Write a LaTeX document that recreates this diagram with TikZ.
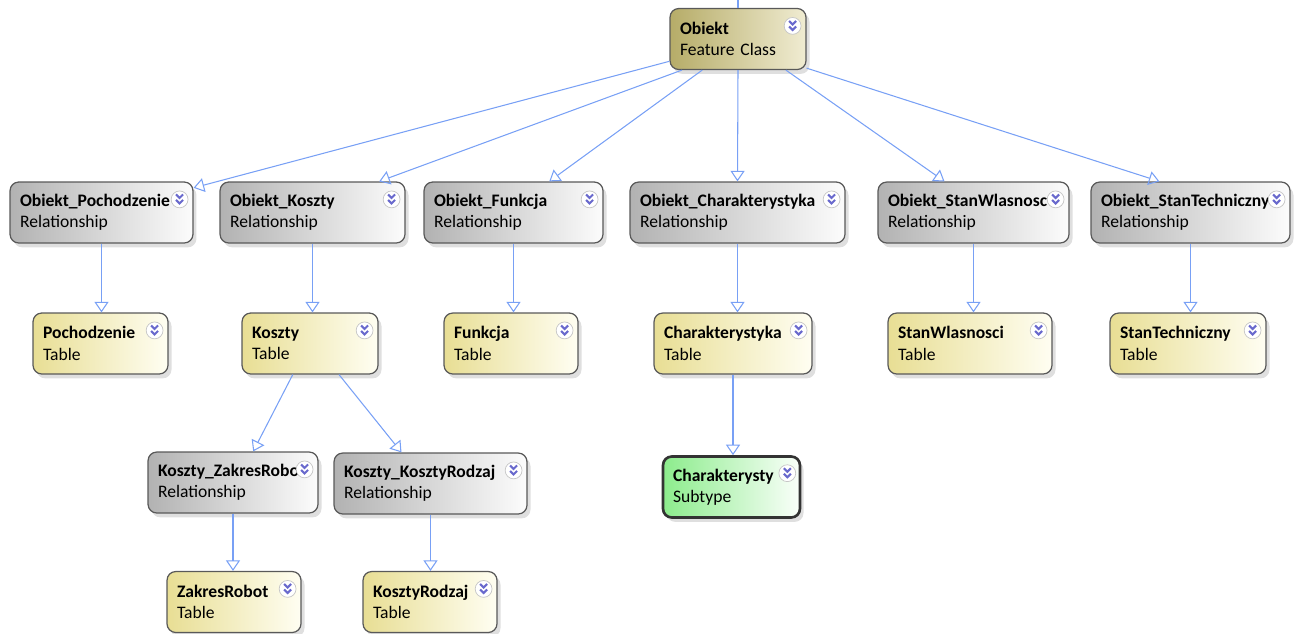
\documentclass[tikz,border=0pt]{standalone}
\usepackage{fontspec}
\setmainfont{Carlito}
\usetikzlibrary{shapes,arrows.meta,shadows}
\hyphenpenalty=10000
\exhyphenpenalty=10000

\definecolor{featL}{RGB}{182,172,104}
\definecolor{featR}{RGB}{240,236,210}
\definecolor{relL}{RGB}{178,178,178}
\definecolor{relR}{RGB}{252,252,252}
\definecolor{tabL}{RGB}{232,222,148}
\definecolor{tabR}{RGB}{255,254,242}
\definecolor{subL}{RGB}{140,236,140}
\definecolor{subR}{RGB}{250,255,250}
\definecolor{linkblue}{RGB}{120,160,245}
\definecolor{chevblue}{RGB}{105,105,205}

\tikzset{
  box/.style={rectangle,rounded corners=5pt,draw=black!65,line width=0.7pt,
    minimum height=1.22cm,inner xsep=0.2cm,inner ysep=0pt,text width=#1,
    align=left,font=\fontsize{10}{12.2}\selectfont,
    drop shadow={opacity=0.25,shadow xshift=2pt,shadow yshift=-2.5pt}},
  featbox/.style={box=#1,left color=featL,right color=featR},
  relbox/.style={box=#1,left color=relL,right color=relR},
  tabbox/.style={box=#1,left color=tabL,right color=tabR},
  subbox/.style={box=#1,left color=subL,right color=subR,draw=black!80,line width=1.5pt},
  link/.style={draw=linkblue,line width=0.6pt,-{Triangle[open,length=6pt,width=8pt]}},
}

% ikonka rozwijania w prawym gornym rogu
\newcommand{\expander}[1]{%
  \begin{scope}[shift={(#1.north east)}]
    \filldraw[fill=white,draw=gray!45,line width=0.4pt] (-14,18) circle (4.8pt);
    \draw[chevblue,line width=1.2pt] (-17.5,13) -- (-14,16.5) -- (-10.5,13);
    \draw[chevblue,line width=1.2pt] (-17.5,18.5) -- (-14,22) -- (-10.5,18.5);
  \end{scope}}

\begin{document}
\begin{tikzpicture}[x=0.02cm,y=-0.02cm]
  \useasboundingbox (0,0) rectangle (1301,633);

  % klasa obiektow
  \node[featbox=2.32cm] (obiekt) at (738,39) {\textbf{Obiekt}\\Feature Class};
  \coordinate (wej) at (738,0);

  % relacje
  \node[relbox=3.26cm] (relP) at (101.5,212.5) {\textbf{Obiekt\_Pochodzenie}\\Relationship};
  \node[relbox=3.30cm] (relK) at (312.5,212.5) {\textbf{Obiekt\_Koszty}\\Relationship};
  \node[relbox=3.18cm] (relF) at (513.5,212.5) {\textbf{Obiekt\_Funkcja}\\Relationship};
  \node[relbox=3.90cm] (relC) at (737.5,212.5) {\textbf{Obiekt\_Charakterystyka}\\Relationship};
  \node[relbox=3.42cm] (relW) at (973.5,212.5) {\textbf{Obiekt\_StanWlasnosc}\\Relationship};
  \node[relbox=3.58cm] (relT) at (1190.5,212.5) {\textbf{Obiekt\_StanTechniczny}\\Relationship};

  % tabele
  \node[tabbox=2.30cm] (tabP) at (100.5,343.5) {\textbf{Pochodzenie}\\Table};
  \node[tabbox=2.32cm] (tabK) at (310,343.5) {\textbf{Koszty}\\Table};
  \node[tabbox=2.28cm] (tabF) at (511,343.5) {\textbf{Funkcja}\\Table};
  \node[tabbox=2.76cm] (tabC) at (733,343.5) {\textbf{Charakterystyka}\\Table};
  \node[tabbox=2.88cm] (tabW) at (970,343.5) {\textbf{StanWlasnosci}\\Table};
  \node[tabbox=2.72cm] (tabT) at (1188,343.5) {\textbf{StanTechniczny}\\Table};

  % poziom kosztow i podtyp
  \node[relbox=3.00cm] (relZR) at (233,482.5) {\textbf{Koszty\_ZakresRobo}\\Relationship};
  \node[relbox=3.46cm] (relKR) at (430.5,483.5) {\textbf{Koszty\_KosztyRodzaj}\\Relationship};
  \node[subbox=2.34cm] (sub) at (731.5,487) {\textbf{Charakterysty}\\Subtype};
  \node[tabbox=2.28cm] (tabZR) at (234,602) {\textbf{ZakresRobot}\\Table};
  \node[tabbox=2.28cm] (tabKR) at (430,602) {\textbf{KosztyRodzaj}\\Table};

  \foreach \n in {obiekt,relP,relK,relF,relC,relW,relT,tabP,tabK,tabF,tabC,tabW,tabT,relZR,relKR,sub,tabZR,tabKR}
    {\expander{\n}}

  % polaczenia
  \draw[draw=linkblue,line width=0.6pt] (wej) -- (obiekt);
  \draw[link] (obiekt.198) -- (relP.15);
  \draw[link] (obiekt.209) -- (relK.25);
  \draw[link] (obiekt.221) -- (relF.41);
  \draw[link] (obiekt.south) -- (relC.north);
  \draw[link] (obiekt.327) -- (relW.133);
  \draw[link] (obiekt.337) -- (relT.135);

  \foreach \a/\b in {relP/tabP,relK/tabK,relF/tabF,relC/tabC,relW/tabW,relT/tabT,relZR/tabZR,relKR/tabKR}
    {\draw[link] (\a.south) -- (\a.south |- \b.north);}
  \draw[link] (tabC.south) -- (tabC.south |- sub.north);
  \draw[link] (tabK.241) -- (relZR.57);
  \draw[link] (tabK.313) -- (relKR.133);
\end{tikzpicture}
\end{document}
